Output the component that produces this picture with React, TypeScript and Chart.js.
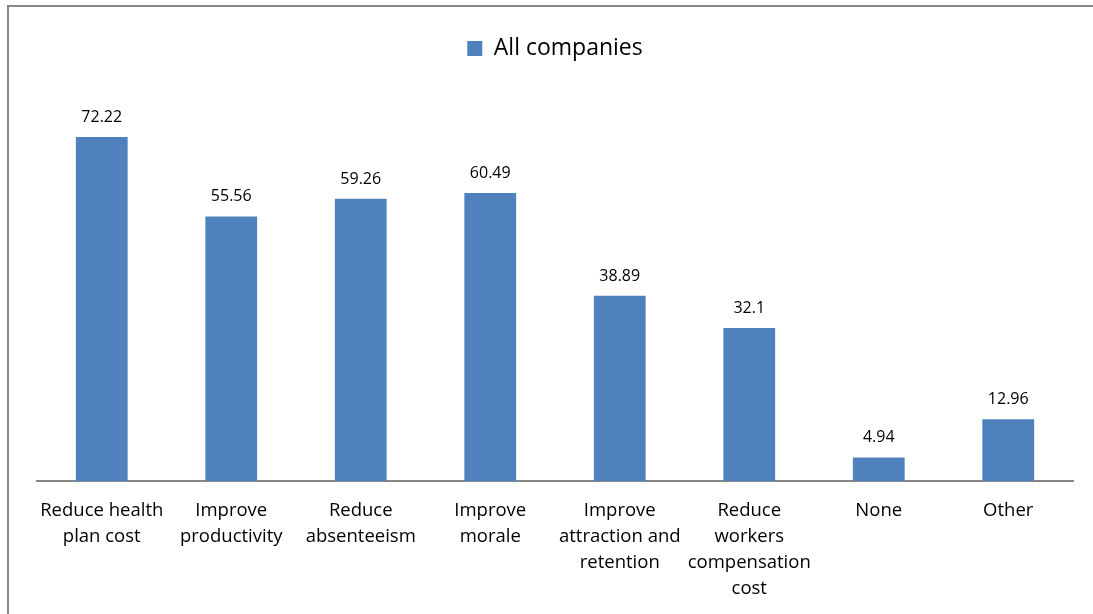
import React, { useEffect, useRef } from "react";
import { Chart, registerables } from "chart.js";

Chart.register(...registerables);

const categories: (string | string[])[] = [
  ["Reduce health", "plan cost"],
  ["Improve", "productivity"],
  ["Reduce", "absenteeism"],
  ["Improve", "morale"],
  ["Improve", "attraction and", "retention"],
  ["Reduce", "workers", "compensation", "cost"],
  "None",
  "Other",
];
const seriesName = "All companies";
const values = [72.22, 55.56, 59.26, 60.49, 38.89, 32.1, 4.94, 12.96];
const yMax = 80;

const FONT = "'Open Sans', 'Noto Sans', sans-serif";

const dataLabelPlugin = {
  id: "dataLabels",
  afterDatasetsDraw(chart: any) {
    const ctx = chart.ctx;
    const meta = chart.getDatasetMeta(0);
    ctx.save();
    ctx.font = `16px ${FONT}`;
    ctx.fillStyle = "#000";
    ctx.textAlign = "center";
    ctx.textBaseline = "alphabetic";
    meta.data.forEach((bar: any, i: number) => {
      ctx.fillText(String(values[i]), bar.x, bar.y - 15);
    });
    ctx.restore();
  },
};

// extra gap below the legend
const legendGapPlugin = {
  id: "legendGap",
  afterInit(chart: any) {
    const legend = chart.legend;
    if (!legend) return;
    const orig = legend.fit;
    legend.fit = function () {
      orig.call(this);
      this.height += 30;
    };
  },
};

export default function App() {
  const ref = useRef<HTMLCanvasElement | null>(null);
  useEffect(() => {
    if (!ref.current) return;
    const chart = new Chart(ref.current, {
      type: "bar",
      data: {
        labels: categories,
        datasets: [
          {
            label: seriesName,
            data: values,
            backgroundColor: "#4F81BD",
            borderColor: "#4F81BD",
            borderWidth: 0,
            barPercentage: 0.4,
            categoryPercentage: 1,
          },
        ],
      },
      options: {
        responsive: false,
        animation: false,
        layout: { padding: { left: 37, right: 20, top: 19, bottom: -5 } },
        plugins: {
          legend: {
            display: true,
            position: "top",
            labels: {
              boxWidth: 15,
              boxHeight: 15,
              color: "#000",
              font: { family: FONT, size: 23 },
              padding: 18,
            },
          },
          tooltip: { enabled: false },
        },
        scales: {
          x: {
            grid: { display: false, drawTicks: false },
            border: { display: true, color: "#878787", width: 2 },
            ticks: {
              color: "#000",
              font: { family: FONT, size: 18.5, lineHeight: 26 / 18.5 },
              padding: 17,
              maxRotation: 0,
              autoSkip: false,
            },
          },
          y: {
            display: false,
            min: 0,
            max: yMax,
          },
        },
      },
      plugins: [dataLabelPlugin, legendGapPlugin],
    });
    return () => chart.destroy();
  }, []);
  return (
    <div style={{ position: "fixed", left: 0, top: 0, width: 1093, height: 614, overflow: "hidden", background: "#fff" }}>
      <div
        style={{
          position: "absolute",
          left: 7,
          top: 5,
          width: 1200,
          height: 700,
          borderLeft: "2px solid #878787",
          borderTop: "2px solid #878787",
        }}
      />
      <canvas ref={ref} width={1093} height={614} style={{ position: "absolute", left: 0, top: 0 }} />
    </div>
  );
}
